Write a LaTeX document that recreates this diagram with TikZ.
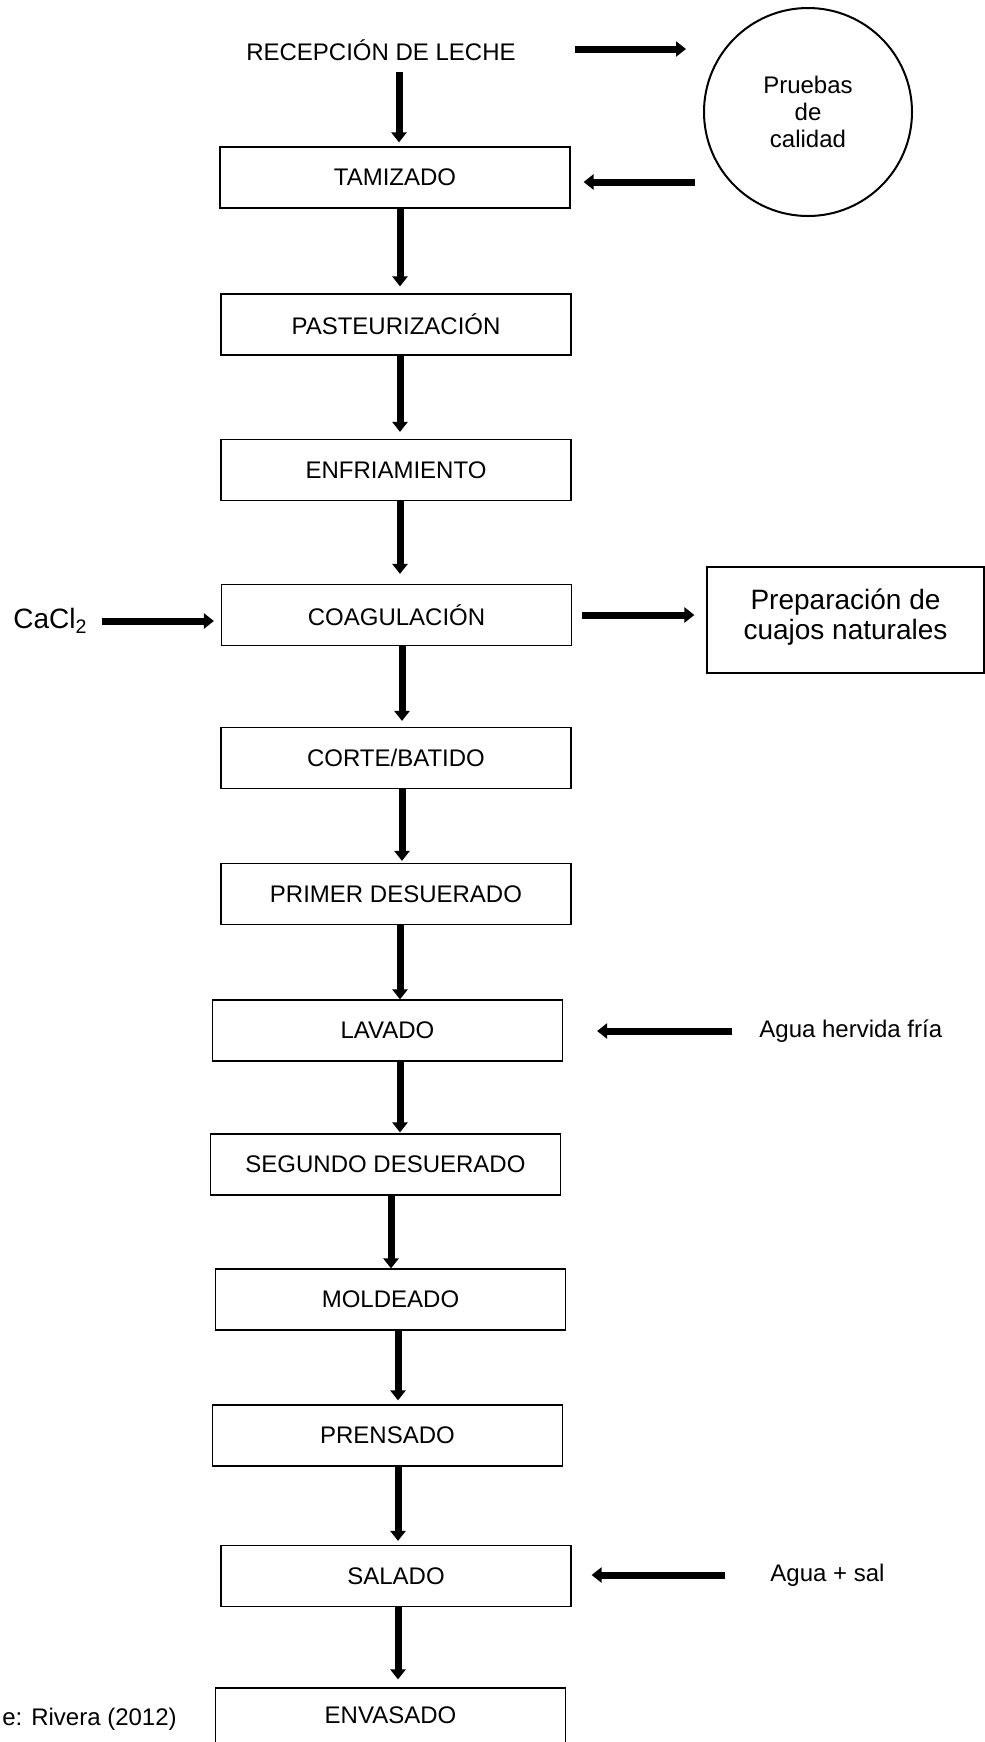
\documentclass[tikz,border=0pt]{standalone}
\usepackage{fontspec}
\setmainfont{Liberation Sans}
\usepackage{tikz}
\usetikzlibrary{arrows.meta}

\begin{document}
\begin{tikzpicture}[x=0.5pt,y=-0.5pt,
  caja/.style={draw,line width=0.6pt,minimum width=175pt,minimum height=30.5pt,inner sep=0pt,font=\fontsize{12}{14}\selectfont},
  texto/.style={inner sep=0pt,font=\fontsize{12}{14}\selectfont},
  flecha/.style={line width=3.5pt,-{Triangle[width=7.5pt,length=5pt]}}]
  \useasboundingbox (0,0) rectangle (985,1742);
  \clip (0,0) rectangle (985,1742);
  \node[texto,anchor=base] (rec) at (381,60) {RECEPCIÓN DE LECHE};
  \node[circle,draw,line width=1pt,minimum size=104pt,inner sep=0pt,align=center,font=\fontsize{12}{13.5}\selectfont] (prueba) at (808,112) {Pruebas\\de\\calidad};
  \node[caja] (tam)  at (395,177.5)  {TAMIZADO};
  \node[caja] (pas)  at (396,324.5)  {PASTEURIZACIÓN};
  \node[caja] (enf)  at (396,470)    {ENFRIAMIENTO};
  \node[caja] (coag) at (396.5,615)  {COAGULACIÓN};
  \node[caja] (cor)  at (396,758)    {CORTE/BATIDO};
  \node[caja] (pri)  at (396,894)    {PRIMER DESUERADO};
  \node[caja] (lav)  at (387.5,1030.5) {LAVADO};
  \node[caja] (seg)  at (385.5,1164.5) {SEGUNDO DESUERADO};
  \node[caja] (mol)  at (390.5,1299.5) {MOLDEADO};
  \node[caja] (pre)  at (387.5,1435.5) {PRENSADO};
  \node[caja] (sal)  at (396,1576)   {SALADO};
  \node[caja,text depth=3.5pt] (env) at (390.5,1718.5) {ENVASADO};
  \node[texto,anchor=west,font=\fontsize{14}{16}\selectfont] (cacl) at (13,621) {CaCl\textsubscript{2}};
  \node[draw,line width=0.6pt,minimum width=138.5pt,minimum height=53pt,inner sep=0pt,align=center,text depth=6.3pt,font=\fontsize{14}{15}\selectfont] (prep) at (845.5,620) {Preparación de\\cuajos naturales};
  \node[texto,anchor=west] (agua1) at (759,1031) {Agua hervida fría};
  \node[texto,anchor=west] (agua2) at (770,1575) {Agua + sal};
  \node[texto,anchor=west] (fuente) at (2,1719) {e: Rivera (2012)};
  \draw[flecha,shorten <=6pt,shorten >=2pt] (rec.base -| 399,0) -- (tam.north -| 399,0);
  \foreach \a/\b/\x/\g in {tam/pas/400/3.5pt, pas/enf/400/3.5pt, enf/coag/400/5pt, coag/cor/402/3pt,
      cor/pri/402/1pt, pri/lav/400/0pt, lav/seg/400/0.5pt, seg/mol/391/0pt,
      mol/pre/398/2pt, pre/sal/398/2pt, sal/env/398/4pt}
    \draw[flecha,shorten >=\g] (\a.south -| \x,0) -- (\b.north -| \x,0);
  \draw[flecha,shorten <=29.5pt,shorten >=8.5pt] (rec.east |- 0,49) -- (prueba.west |- 0,49);
  \draw[flecha,shorten <=4pt,shorten >=6.5pt] (prueba.west |- 0,182) -- (tam.east |- 0,182);
  \draw[flecha,shorten <=7pt,shorten >=3.5pt] (cacl.east) -- (coag.west |- cacl.east);
  \draw[flecha,shorten <=5pt,shorten >=6pt] (coag.east) -- (prep.west |- coag.east);
  \draw[flecha,shorten <=13.5pt,shorten >=17pt] (agua1.west) -- (lav.east |- agua1.west);
  \draw[flecha,shorten <=22.5pt,shorten >=10pt] (agua2.west) -- (sal.east |- agua2.west);
\end{tikzpicture}
\end{document}
